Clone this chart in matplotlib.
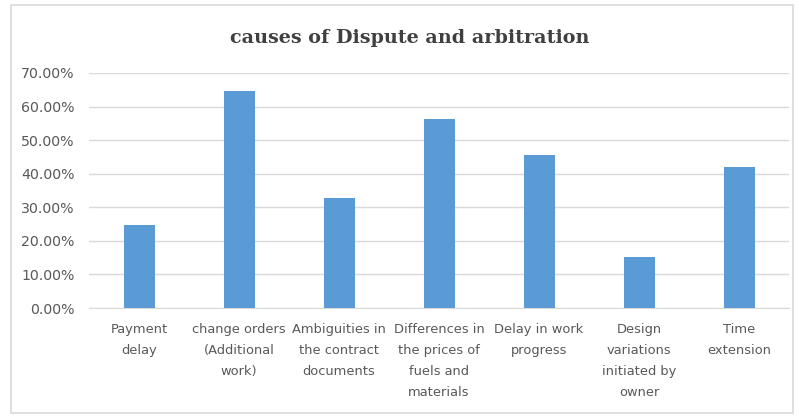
import matplotlib
matplotlib.use("Agg")
import matplotlib.pyplot as plt
from matplotlib.patches import Rectangle
from matplotlib.ticker import PercentFormatter, MultipleLocator

categories = [
    "Payment\ndelay",
    "change orders\n(Additional\nwork)",
    "Ambiguities in\nthe contract\ndocuments",
    "Differences in\nthe prices of\nfuels and\nmaterials",
    "Delay in work\nprogress",
    "Design\nvariations\ninitiated by\nowner",
    "Time\nextension",
]
values = [24.6, 64.6, 32.9, 56.3, 45.6, 15.3, 42.1]
title = "causes of Dispute and arbitration"

W, H = 799, 418
fig = plt.figure(figsize=(W / 100, H / 100), dpi=100)
fig.patch.set_facecolor("white")

# outer chart border
fig.add_artist(Rectangle((11 / W, 1 - 413 / H), (793 - 11) / W, (413 - 5) / H,
                         transform=fig.transFigure, fill=False,
                         edgecolor="#d9d9d9", linewidth=1.2))

ax = fig.add_axes([89 / W, 1 - 308 / H, (789 - 89) / W, (308 - 73) / H])
x = list(range(len(categories)))
ax.bar(x, values, width=0.31, color="#5b9bd5", zorder=3)
ax.set_xlim(-0.5, len(categories) - 0.5)
ax.set_ylim(0, 70)
ax.yaxis.set_major_locator(MultipleLocator(10))
ax.yaxis.set_major_formatter(PercentFormatter(decimals=2))
ax.grid(axis="y", color="#d9d9d9", linewidth=1.0, zorder=0)
for s in ["top", "right", "left"]:
    ax.spines[s].set_visible(False)
ax.spines["bottom"].set_color("#d9d9d9")
ax.tick_params(axis="both", length=0, colors="#595959")
ax.tick_params(axis="y", pad=10.5, labelsize=10.2)
ax.tick_params(axis="x", pad=11)
ax.set_xticks(x)
ax.set_xticklabels(categories, linespacing=1.78, fontsize=9.4, color="#595959")

fig.text(410 / W, 1 - 38 / H, title, ha="center", va="center",
         fontsize=13.8, fontweight="bold", family="DejaVu Serif", color="#404040")

fig.savefig("out.png", dpi=100)
